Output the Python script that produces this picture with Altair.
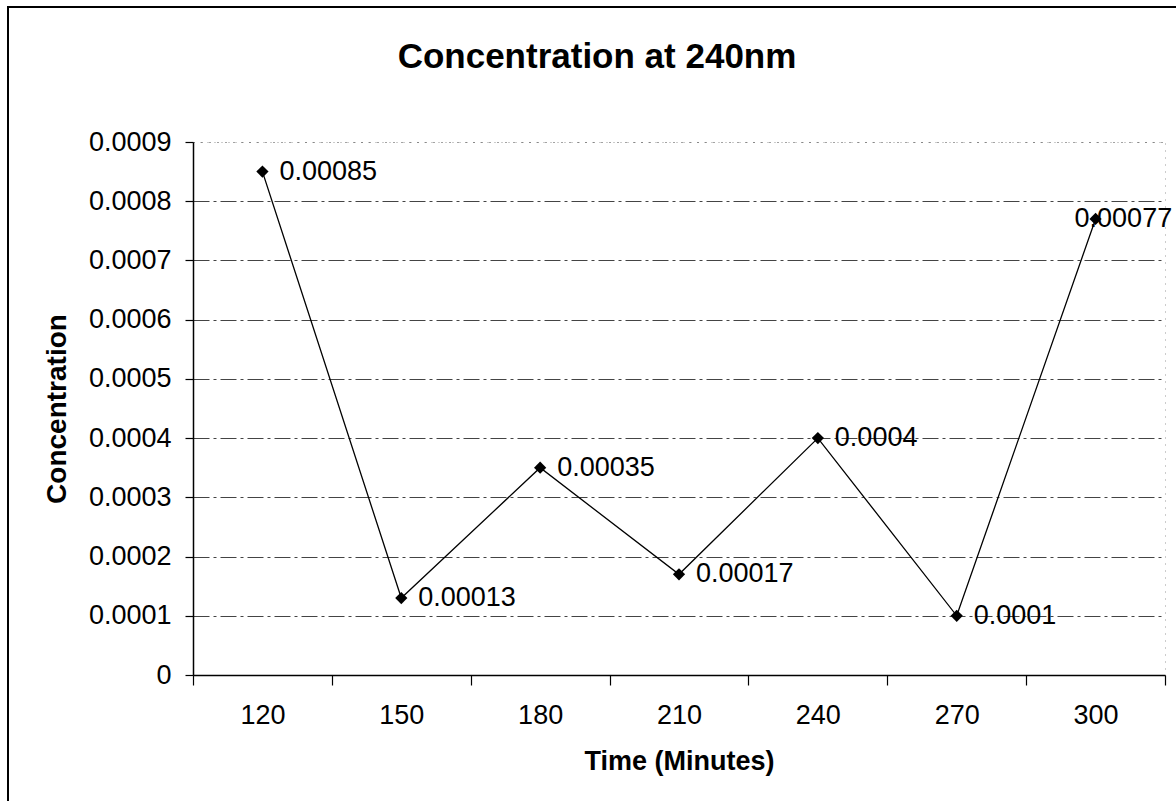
import altair as alt
import pandas as pd

times = [120, 150, 180, 210, 240, 270, 300]
concentration = [0.00085, 0.00013, 0.00035, 0.00017, 0.0004, 0.0001, 0.00077]
y_ticks = [0, 0.0001, 0.0002, 0.0003, 0.0004, 0.0005, 0.0006, 0.0007, 0.0008, 0.0009]
chart_title = ["Concentration at 240nm"]

df = pd.DataFrame({"time": times, "conc": concentration})
title_df = pd.DataFrame({"title": chart_title})

FONT = "Liberation Sans"

x_enc = alt.X(
    "time:O",
    scale=alt.Scale(type="band", paddingInner=0, paddingOuter=0),
    bandPosition=0.5,
    axis=alt.Axis(
        title="Time (Minutes)",
        titleFont=FONT, titleFontSize=27, titleFontWeight="bold", titleColor="black",
        titlePadding=20,
        labelFont=FONT, labelFontSize=27, labelColor="black", labelAngle=0,
        labelPadding=17,
        tickBand="extent", tickSize=10, tickColor="black", tickWidth=1.2,
        domainColor="black", domainWidth=1.5,
        grid=False,
    ),
)

y_enc = alt.Y(
    "conc:Q",
    scale=alt.Scale(domain=[0, 0.0009], nice=False, zero=True),
    axis=alt.Axis(
        title="Concentration",
        titleFont=FONT, titleFontSize=28, titleFontWeight="bold", titleColor="black",
        titlePadding=17,
        values=y_ticks,
        labelExpr="datum.value == 0 ? '0' : format(datum.value, '.4f')",
        labelFont=FONT, labelFontSize=27, labelColor="black",
        labelPadding=14,
        tickSize=8, tickColor="black", tickWidth=1.2,
        domainColor="black", domainWidth=1.5,
        grid=True,
        gridColor="#444444",
        gridWidth=1,
        gridDash={"condition": {"test": "datum.value >= 0.00089", "value": [1, 7]},
                  "value": [16, 4, 3, 4]},
    ),
)

base = alt.Chart(df)

border = base.mark_rect(fill=None, stroke="black", strokeWidth=2).encode(
    x=alt.value(-185), x2=alt.value(990), y=alt.value(-135), y2=alt.value(670)
)

title = alt.Chart(title_df).mark_text(
    align="center", baseline="middle", font=FONT, fontSize=35, fontWeight="bold", color="black"
).encode(x=alt.value(404), y=alt.value(-85), text="title:N")

line = base.mark_line(color="black", strokeWidth=1.3).encode(x=x_enc, y=y_enc)

points = base.mark_point(shape="diamond", filled=True, color="black", size=150, opacity=1).encode(
    x=x_enc, y=y_enc
)

labels = base.transform_filter("datum.time != 300").mark_text(
    align="left", baseline="middle", dx=17, font=FONT, fontSize=27, color="black"
).encode(x=x_enc, y=y_enc, text=alt.Text("conc:Q", format="~g"))

last_label = base.transform_filter("datum.time == 300").mark_text(
    align="left", baseline="middle", dx=-21, font=FONT, fontSize=27, color="black"
).encode(x=x_enc, y=y_enc, text=alt.Text("conc:Q", format="~g"))

chart = (
    alt.layer(border, title, line, points, labels, last_label)
    .properties(
        width=972,
        height=533,
        padding={"left": 193, "top": 142, "right": 11, "bottom": 126},
        autosize=alt.AutoSizeParams(type="none"),
        background="white",
    )
    .configure_view(stroke="#999999", strokeDash=[1, 6], strokeWidth=1)
)

chart.save("out.html", embed_options={"renderer": "svg", "actions": False})
